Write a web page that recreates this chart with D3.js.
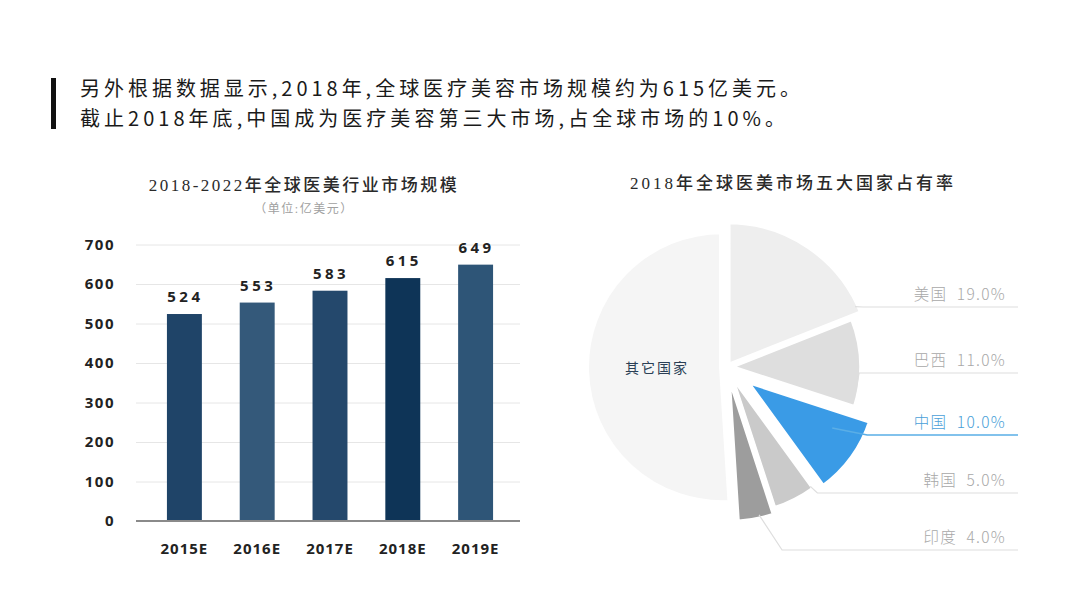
<!DOCTYPE html>
<html><head><meta charset="utf-8">
<script src="https://cdn.jsdelivr.net/npm/d3@7"></script>
<style>body{margin:0;background:#fff;} svg{display:block}</style>
</head><body><svg id="c" width="1080" height="599"></svg>
<script>
// ---------- data ----------
const headerLines = ["另外根据数据显示,2018年,全球医疗美容市场规模约为615亿美元。", "截止2018年底,中国成为医疗美容第三大市场,占全球市场的10%。"];
const barTitle = "2018-2022年全球医美行业市场规模";
const barSubtitle = "（单位:亿美元）";
const years = ["2015E", "2016E", "2017E", "2018E", "2019E"];
const marketSize = [524, 553, 583, 615, 649];
const yTicks = [0, 100, 200, 300, 400, 500, 600, 700];
const pieTitle = "2018年全球医美市场五大国家占有率";
const countries = ["美国", "巴西", "中国", "韩国", "印度", "其它国家"];
const shares = [19, 11, 10, 5, 4, 51];

// ---------- styles / layout ----------
const barColors = ["#1f4468", "#34597a", "#24486c", "#0e3457", "#2e5577"];
const sliceColors = ["#eeeeee", "#dedede", "#3a9be6", "#cacaca", "#9d9d9d", "#f5f5f5"];
const sliceRadius = [145, 134, 133, 147, 155, 136];
const sliceOffset = [1, 1, 22, 3, 1, 5];
const labelLineY = [307, 373, 435, 493, 550];
const anchorFrac = [0.95, 0.85, 0.3, 0.05, 0.4];
const anchorRad = [0.97, 0.97, 0.75, 0.97, 0.97];
const elbowDx = [8, 4, 35, 7, 23];

const svg = d3.select("#c");
const CJK = "'Noto Sans CJK SC', 'Noto Sans', sans-serif";
const SERIF = "'Liberation Serif', 'DejaVu Serif', 'Noto Sans CJK SC', serif";

// header
svg.append("rect").attr("x", 51).attr("y", 78).attr("width", 5).attr("height", 51).attr("fill", "#111");
svg.selectAll("text.hdr").data(headerLines).join("text")
  .attr("class", "hdr")
  .attr("x", 80).attr("y", (d, i) => 96 + i * 30)
  .attr("textLength", (d, i) => i === 0 ? 720 : 705)
  .attr("lengthAdjust", "spacing")
  .style("font-family", CJK).style("font-size", "20px").style("font-weight", 400)
  .attr("fill", "#1a1a1a").text(d => d);

// ---------- bar chart ----------
const x = d3.scaleBand().domain(years).range([148, 512]).paddingInner(0.52).paddingOuter(0.26);
const y = d3.scaleLinear().domain([0, 700]).range([521, 244.5]);

svg.append("text").attr("x", 304).attr("y", 191).attr("text-anchor", "middle")
  .style("font-family", SERIF).style("font-size", "17px").style("font-weight", 500).style("letter-spacing", "2.5px")
  .attr("fill", "#2a2a2a").text(barTitle);
svg.append("text").attr("x", 304).attr("y", 213).attr("text-anchor", "middle")
  .style("font-family", SERIF).style("font-size", "12px").style("letter-spacing", "1.5px")
  .attr("fill", "#a0a0a0").text(barSubtitle);

const yAxis = d3.axisLeft(y).tickValues(yTicks).tickSize(-(520 - 136)).tickPadding(21).tickFormat(d3.format("d"));
const gy = svg.append("g").attr("transform", "translate(136,0)").call(yAxis);
gy.select(".domain").remove();
gy.selectAll(".tick line").attr("stroke", "#e6e6e6").attr("stroke-width", 1);
gy.selectAll(".tick text").style("font-family", "'Open Sans', sans-serif").style("font-size", "15px")
  .style("font-weight", 700).style("letter-spacing", "1.5px").attr("fill", "#222");

svg.selectAll("rect.bar").data(marketSize).join("rect")
  .attr("class", "bar")
  .attr("x", (d, i) => x(years[i])).attr("width", x.bandwidth())
  .attr("y", d => y(d)).attr("height", d => y(0) - y(d))
  .attr("fill", (d, i) => barColors[i]);

svg.selectAll("text.val").data(marketSize).join("text")
  .attr("class", "val")
  .attr("x", (d, i) => x(years[i]) + x.bandwidth() / 2 + 1).attr("y", d => y(d) - 12)
  .attr("text-anchor", "middle")
  .style("font-family", "'Open Sans', sans-serif").style("font-size", "15px")
  .style("font-weight", 700).style("letter-spacing", "3.5px").attr("fill", "#222").text(d => d);

const xAxis = d3.axisBottom(x).tickSize(0).tickPadding(22);
const gx = svg.append("g").attr("transform", "translate(0,521)").call(xAxis);
gx.select(".domain").remove();
svg.append("line").attr("x1", 136).attr("x2", 520).attr("y1", 521).attr("y2", 521)
  .attr("stroke", "#8a8a8a").attr("stroke-width", 2);
gx.selectAll(".tick text").style("font-family", "'Open Sans', sans-serif").style("font-size", "15px")
  .style("font-weight", 700).style("letter-spacing", "1px").attr("fill", "#222");

// ---------- pie chart ----------
const cx = 727, cy = 367;
svg.append("text").attr("x", 793).attr("y", 189).attr("text-anchor", "middle")
  .style("font-family", SERIF).style("font-size", "17px").style("font-weight", 500).style("letter-spacing", "3px")
  .attr("fill", "#2a2a2a").text(pieTitle);

const pie = d3.pie().sort(null).value(d => d)(shares);
const pt = (a, r) => [r * Math.sin(a), -r * Math.cos(a)];
const gp = svg.append("g").attr("transform", `translate(${cx},${cy})`);

gp.selectAll("path").data(pie).join("path")
  .attr("transform", (d, i) => {
    const m = (d.startAngle + d.endAngle) / 2;
    const [ox, oy] = pt(m, sliceOffset[i]);
    return `translate(${ox},${oy})`;
  })
  .attr("d", (d, i) => d3.arc().innerRadius(0).outerRadius(sliceRadius[i])(d))
  .attr("fill", (d, i) => sliceColors[i])
  .attr("stroke", "#fff").attr("stroke-width", 6).attr("stroke-linejoin", "miter");

// label for other
svg.append("text").attr("x", 657).attr("y", 373).attr("text-anchor", "middle")
  .style("font-family", CJK).style("font-size", "14px").style("letter-spacing", "2px")
  .attr("fill", "#2b3f55").text(countries[5]);

// leader lines & labels for top 5
const fmt = d3.format(".1f");
pie.slice(0, 5).forEach((d, i) => {
  const m = (d.startAngle + d.endAngle) / 2;
  const [ox, oy] = pt(m, sliceOffset[i]);
  const a = d.startAngle + anchorFrac[i] * (d.endAngle - d.startAngle);
  const [ax, ay] = pt(a, sliceRadius[i] * anchorRad[i]);
  const sx = cx + ox + ax, sy = cy + oy + ay;
  const ly = labelLineY[i];
  const isCN = i === 2;
  const col = isCN ? "#5aaee6" : "#dedede";
  svg.append("polyline")
    .attr("points", [[sx, sy], [sx + elbowDx[i], ly], [1018, ly]].map(p => p.join(",")).join(" "))
    .attr("fill", "none").attr("stroke", col).attr("stroke-width", isCN ? 1.5 : 1.2);
  svg.append("text").attr("x", 1006).attr("y", ly - 7).attr("text-anchor", "end")
    .style("font-family", CJK).style("font-size", "15.5px").style("font-weight", 300)
    .style("letter-spacing", "1.3px").style("white-space", "pre")
    .attr("fill", isCN ? "#4a9fd8" : "#a8a8a8")
    .text(countries[i] + "  " + fmt(shares[i]) + "%");
});
</script></body></html>
